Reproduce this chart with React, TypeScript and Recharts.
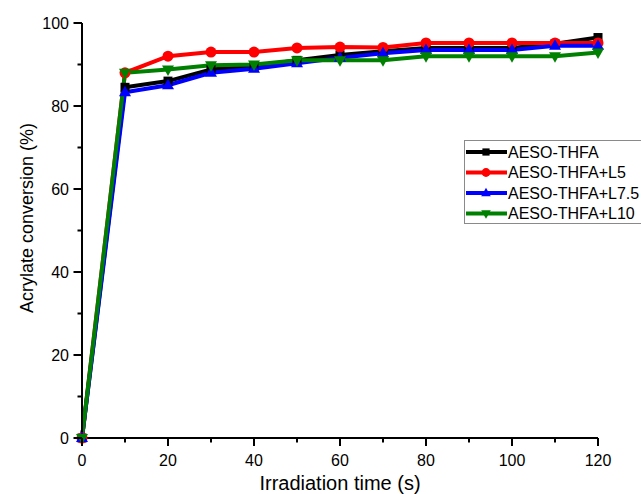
import { LineChart, Line, XAxis, YAxis, Legend } from 'recharts'

const TIME = [0, 10, 20, 30, 40, 50, 60, 70, 80, 90, 100, 110, 120]
const AESO_THFA = [0, 84.5, 86, 88.8, 89.5, 91, 92.3, 93.2, 94, 94, 94, 95, 96.5]
const AESO_THFA_L5 = [0, 88, 92, 93, 93, 94, 94.2, 94.1, 95.2, 95.2, 95.2, 95.2, 95.2]
const AESO_THFA_L75 = [0, 83.3, 85, 88, 89, 90.3, 91.6, 92.7, 93.5, 93.5, 93.5, 94.5, 94.5]
const AESO_THFA_L10 = [0, 88, 88.8, 89.8, 90, 91, 91, 91, 92, 92, 92, 92, 92.9]

const X_TICKS = [0, 10, 20, 30, 40, 50, 60, 70, 80, 90, 100, 110, 120]
const Y_TICKS = [0, 10, 20, 30, 40, 50, 60, 70, 80, 90, 100]

const FONT = '"Liberation Sans", Arial, sans-serif'

const SERIES = [
  { key: 'a', name: 'AESO-THFA', color: '#000000', shape: 'square', values: AESO_THFA },
  { key: 'b', name: 'AESO-THFA+L5', color: '#ff0000', shape: 'circle', values: AESO_THFA_L5 },
  { key: 'c', name: 'AESO-THFA+L7.5', color: '#0000ff', shape: 'up', values: AESO_THFA_L75 },
  { key: 'd', name: 'AESO-THFA+L10', color: '#008000', shape: 'down', values: AESO_THFA_L10 },
]

const data = TIME.map((t, i) => {
  const row: Record<string, number> = { t }
  SERIES.forEach((s) => (row[s.key] = s.values[i]))
  return row
})

function Marker({ shape, x, y, color, s = 1 }: { shape: string; x: number; y: number; color: string; s?: number }) {
  if (shape === 'square') return <rect x={x - 4.5 * s} y={y - 4.5 * s} width={9 * s} height={9 * s} fill={color} />
  if (shape === 'circle') return <circle cx={x} cy={y} r={5.5 * s} fill={color} />
  if (shape === 'up')
    return <polygon points={`${x},${y - 6.5 * s} ${x + 6 * s},${y + 4 * s} ${x - 6 * s},${y + 4 * s}`} fill={color} />
  return <polygon points={`${x},${y + 6.5 * s} ${x + 6 * s},${y - 4 * s} ${x - 6 * s},${y - 4 * s}`} fill={color} />
}

const XTick = ({ x, y, payload }: any) => {
  const major = payload.value % 20 === 0
  return (
    <g>
      <line x1={x} x2={x} y1={y} y2={y + (major ? 8 : 4.5)} stroke="#000" strokeWidth={2} />
      {major && (
        <text x={x} y={y + 28} textAnchor="middle" fontFamily={FONT} fontSize={16} fill="#000">
          {payload.value}
        </text>
      )}
    </g>
  )
}

const YTick = ({ x, y, payload }: any) => {
  const major = payload.value % 20 === 0
  return (
    <g>
      <line x1={x} x2={x - (major ? 8.5 : 4.5)} y1={y} y2={y} stroke="#000" strokeWidth={2} />
      {major && (
        <text x={x - 13} y={y + 5.5} textAnchor="end" fontFamily={FONT} fontSize={16} fill="#000">
          {payload.value}
        </text>
      )}
    </g>
  )
}

const LegendBox = () => (
  <div
    style={{
      width: 190,
      height: 84,
      border: '1px solid #8a8a8a',
      boxSizing: 'border-box',
      background: '#fff',
    }}
  >
    <svg width={190} height={82}>
      {SERIES.map((s, i) => {
        const cy = 11 + i * 20.5
        return (
          <g key={s.key}>
            <line x1={1} x2={42} y1={cy} y2={cy} stroke={s.color} strokeWidth={4} />
            <Marker shape={s.shape} x={21} y={cy} color={s.color} s={0.8} />
            <text x={43} y={cy + 5.8} fontFamily={FONT} fontSize={16} fill="#000">
              {s.name}
            </text>
          </g>
        )
      })}
    </svg>
  </div>
)

export default function App() {
  return (
    <div style={{ position: 'absolute', left: 0, top: 0, background: '#fff' }}>
      <LineChart width={641} height={494} data={data} margin={{ top: 23, right: 43, bottom: 0, left: 0 }}>
        <XAxis
          dataKey="t"
          type="number"
          domain={[0, 120]}
          ticks={X_TICKS}
          interval={0}
          height={56}
          tickSize={0}
          tickMargin={0}
          tickLine={false}
          tick={<XTick />}
          axisLine={{ stroke: '#000', strokeWidth: 2 }}
          label={{
            content: () => (
              <text x={340} y={490} textAnchor="middle" fontFamily={FONT} fontSize={20} fill="#000">
                Irradiation time (s)
              </text>
            ),
          }}
        />
        <YAxis
          type="number"
          domain={[0, 100]}
          ticks={Y_TICKS}
          interval={0}
          width={82}
          tickSize={0}
          tickMargin={0}
          tickLine={false}
          tick={<YTick />}
          axisLine={{ stroke: '#000', strokeWidth: 2 }}
          label={{
            content: () => (
              <text
                x={27}
                y={218}
                textAnchor="middle"
                dominantBaseline="central"
                transform="rotate(-90, 27, 218)"
                fontFamily={FONT}
                fontSize={18}
                fill="#000"
              >
                Acrylate conversion (%)
              </text>
            ),
          }}
        />
        <Legend
          layout="vertical"
          align="center"
          verticalAlign="middle"
          wrapperStyle={{ left: 464, top: 140, width: 190 }}
          content={() => <LegendBox />}
        />
        {SERIES.map((s) => (
          <Line
            key={s.key}
            dataKey={s.key}
            name={s.name}
            stroke={s.color}
            strokeWidth={4}
            isAnimationActive={false}
            activeDot={false}
            dot={(p: any) => <Marker key={`${s.key}-${p.index}`} shape={s.shape} x={p.cx} y={p.cy} color={s.color} />}
          />
        ))}
      </LineChart>
    </div>
  )
}
